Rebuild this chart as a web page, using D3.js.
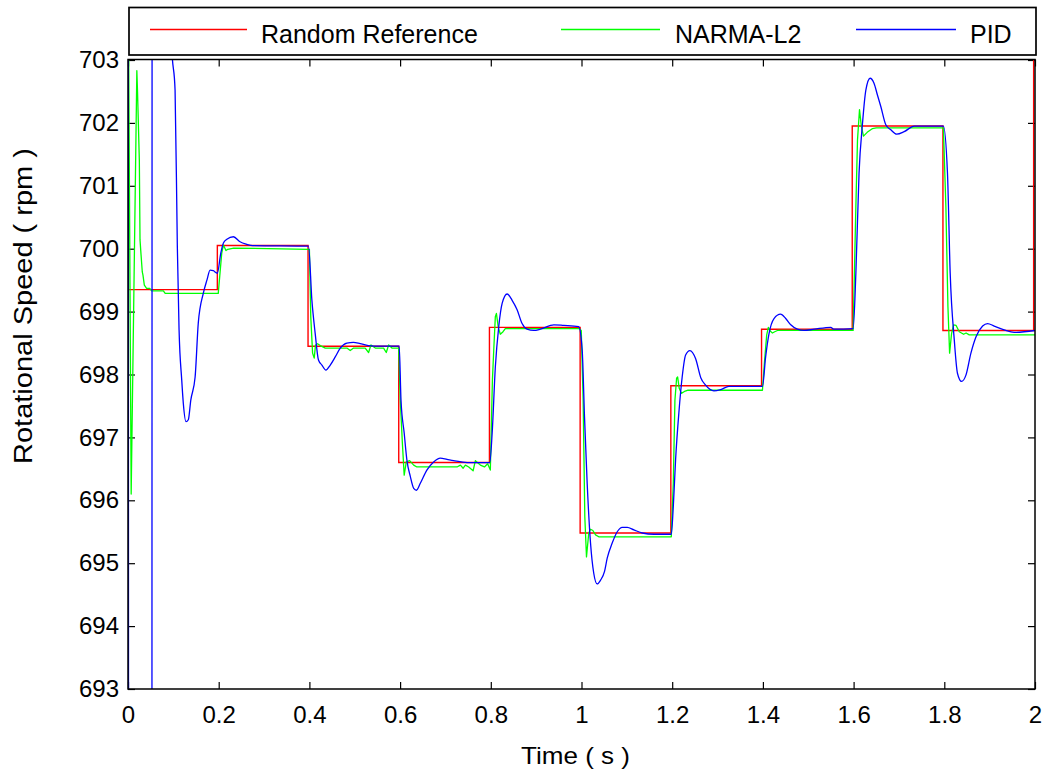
<!DOCTYPE html>
<html>
<head>
<meta charset="utf-8">
<script src="https://cdn.jsdelivr.net/npm/d3@7/dist/d3.min.js"></script>
<style>
  html, body { margin: 0; padding: 0; background: #fff; }
  svg { display: block; }
  text { font-family: "Liberation Sans", Arial, sans-serif; fill: #000; }
</style>
</head>
<body>
<svg id="chart" width="1046" height="776"></svg>
<script>
// Step reference: switching times (s) and set-point levels (rpm)
const refTimes  = [0, 0.197, 0.397, 0.597, 0.797, 0.997, 1.197, 1.397, 1.597, 1.797, 1.997];
const refValues = [699.35, 700.05, 698.45, 696.6, 698.75, 695.48, 697.82, 698.72, 701.95, 698.7, 705];

// NARMA-L2 controller response [time, rpm]
const narmaPoints = [
  [0, 705], [0.007, 696.1], [0.0195, 702.83], [0.021, 702.5], [0.025, 701.4], [0.0265, 700.14],
  [0.0285, 699.93], [0.0315, 699.63], [0.033, 699.58], [0.036, 699.42], [0.041, 699.37],
  [0.048, 699.37], [0.052, 699.33], [0.078, 699.33], [0.082, 699.29], [0.199, 699.29],
  [0.2067, 699.93], [0.2104, 700.06], [0.216, 699.97], [0.22, 699.99], [0.233, 700.01],
  [0.400, 699.99], [0.403, 698.92], [0.407, 698.34], [0.4106, 698.26], [0.4135, 698.47],
  [0.418, 698.49], [0.424, 698.46], [0.435, 698.42], [0.4827, 698.42], [0.490, 698.38],
  [0.4974, 698.42], [0.523, 698.42], [0.5305, 698.35], [0.5357, 698.47], [0.5453, 698.42],
  [0.5636, 698.42], [0.5695, 698.35], [0.5747, 698.47], [0.582, 698.42], [0.5968, 698.42],
  [0.6004, 697.59], [0.605, 696.91], [0.609, 696.40], [0.6137, 696.61], [0.621, 696.63],
  [0.63, 696.56], [0.637, 696.53], [0.7255, 696.53], [0.733, 696.56], [0.739, 696.51],
  [0.744, 696.56], [0.7513, 696.53], [0.761, 696.47], [0.766, 696.63], [0.777, 696.56],
  [0.786, 696.53], [0.793, 696.58], [0.799, 696.48], [0.8035, 697.9], [0.8065, 698.39],
  [0.81, 698.92], [0.8124, 698.97], [0.8165, 698.75], [0.821, 698.64], [0.827, 698.68],
  [0.832, 698.73], [0.994, 698.73], [0.9995, 698.7], [1.0036, 697.59], [1.0073, 695.74],
  [1.011, 695.10], [1.016, 695.48], [1.0199, 695.54], [1.025, 695.52], [1.031, 695.45],
  [1.038, 695.42], [1.198, 695.42], [1.2024, 696.27], [1.206, 697.59], [1.2097, 697.94],
  [1.212, 697.96], [1.2155, 697.78], [1.2201, 697.70], [1.227, 697.73], [1.235, 697.75],
  [1.399, 697.75], [1.4035, 698.2], [1.4084, 698.63], [1.412, 698.75], [1.416, 698.69],
  [1.421, 698.66], [1.426, 698.68], [1.432, 698.70], [1.599, 698.70], [1.605, 700.67],
  [1.6086, 701.73], [1.613, 702.21], [1.617, 701.95], [1.6218, 701.79], [1.630, 701.85],
  [1.6417, 701.91], [1.65, 701.92], [1.798, 701.92], [1.8035, 700.67], [1.808, 699.08],
  [1.8117, 698.34], [1.816, 698.65], [1.8205, 698.79], [1.826, 698.78], [1.833, 698.68],
  [1.8426, 698.64], [1.848, 698.66], [1.855, 698.63], [2.0, 698.63]
];

// PID controller response [time, rpm]
const pidPoints = [
  [0, 730], [0.003, 660], [0.052, 660], [0.054, 740], [0.094, 740], [0.0965, 703.2],
  [0.1038, 702.52], [0.1088, 700.03], [0.1126, 698.71], [0.1185, 697.91], [0.122, 697.54],
  [0.128, 697.25], [0.133, 697.28], [0.1384, 697.59], [0.148, 697.96], [0.155, 698.82],
  [0.166, 699.29], [0.174, 699.5], [0.181, 699.66], [0.188, 699.65], [0.197, 699.61],
  [0.2046, 699.93], [0.2104, 700.09], [0.218, 700.15], [0.2325, 700.19], [0.247, 700.11],
  [0.262, 700.07], [0.275, 700.05], [0.398, 700.04], [0.4055, 699.18], [0.4128, 698.65],
  [0.420, 698.23], [0.4276, 698.15], [0.4364, 698.07], [0.446, 698.15], [0.457, 698.28],
  [0.468, 698.42], [0.4827, 698.50], [0.497, 698.51], [0.512, 698.49], [0.530, 698.46],
  [0.556, 698.45], [0.598, 698.45], [0.602, 697.59], [0.609, 697.07], [0.615, 696.64],
  [0.6225, 696.38], [0.630, 696.19], [0.636, 696.16], [0.6446, 696.27], [0.659, 696.48],
  [0.674, 696.61], [0.6887, 696.67], [0.7035, 696.65], [0.718, 696.63], [0.748, 696.6],
  [0.7977, 696.6], [0.803, 697.07], [0.810, 698.12], [0.8175, 698.76], [0.825, 699.13],
  [0.836, 699.28], [0.847, 699.18], [0.858, 699.03], [0.869, 698.81], [0.880, 698.72],
  [0.8947, 698.70], [0.9095, 698.72], [0.939, 698.79], [0.961, 698.78], [0.994, 698.76],
  [1.0015, 698.39], [1.0066, 697.33], [1.0125, 696.27], [1.0199, 695.32], [1.027, 694.84],
  [1.0346, 694.67], [1.042, 694.73], [1.0508, 694.87], [1.0567, 695.08], [1.0677, 695.32],
  [1.0788, 695.50], [1.0898, 695.57], [1.1009, 695.57], [1.1155, 695.53], [1.134, 695.48],
  [1.16, 695.46], [1.198, 695.46], [1.2024, 695.9], [1.2075, 696.65], [1.2148, 697.4],
  [1.222, 697.96], [1.2296, 698.31], [1.239, 698.38], [1.2517, 698.25], [1.263, 697.95],
  [1.2737, 697.83], [1.292, 697.74], [1.307, 697.76], [1.325, 697.81], [1.399, 697.81],
  [1.406, 698.28], [1.4135, 698.65], [1.4245, 698.89], [1.439, 698.96], [1.4503, 698.89],
  [1.4614, 698.79], [1.476, 698.72], [1.4907, 698.70], [1.513, 698.72], [1.5497, 698.75],
  [1.556, 698.72], [1.599, 698.73], [1.605, 699.61], [1.612, 701.2], [1.6196, 701.99],
  [1.627, 702.52], [1.6364, 702.71], [1.645, 702.63], [1.6527, 702.44], [1.66, 702.26],
  [1.671, 701.97], [1.682, 701.89], [1.695, 701.82], [1.7115, 701.86], [1.7336, 701.95],
  [1.798, 701.95], [1.807, 701.2], [1.813, 699.61], [1.822, 698.55], [1.829, 698.02],
  [1.838, 697.89], [1.8477, 697.99], [1.8587, 698.34], [1.87, 698.60], [1.8845, 698.77],
  [1.8955, 698.81], [1.910, 698.77], [1.932, 698.71], [1.954, 698.67], [2.0, 698.70]
];

const xTicks = [0, 0.2, 0.4, 0.6, 0.8, 1, 1.2, 1.4, 1.6, 1.8, 2];
const yTicks = [693, 694, 695, 696, 697, 698, 699, 700, 701, 702, 703];
const legendLabels = ["Random Reference", "NARMA-L2", "PID"];
const seriesColors = ["#ff0000", "#00ff00", "#0000ff"];

const svg = d3.select("#chart");
const plot = { left: 128, right: 1035, top: 60, bottom: 689 };

const x = d3.scaleLinear().domain([0, 2]).range([plot.left, plot.right]);
const y = d3.scaleLinear().domain([693, 703]).range([plot.bottom, plot.top]);

svg.append("defs").append("clipPath").attr("id", "plotClip")
  .append("rect")
  .attr("x", plot.left).attr("y", plot.top - 1)
  .attr("width", plot.right - plot.left).attr("height", plot.bottom - plot.top + 1);

// Axes with inward ticks on all four sides
const tickLen = 7;
const fmt = d3.format("~g");

const bottomAxis = svg.append("g")
  .attr("transform", `translate(0,${plot.bottom})`)
  .call(d3.axisBottom(x).tickValues(xTicks).tickFormat(fmt)
    .tickSizeInner(-tickLen).tickSizeOuter(0).tickPadding(17));
const leftAxis = svg.append("g")
  .attr("transform", `translate(${plot.left},0)`)
  .call(d3.axisLeft(y).tickValues(yTicks).tickFormat(fmt)
    .tickSizeInner(-tickLen).tickSizeOuter(0).tickPadding(9));
const topAxis = svg.append("g")
  .attr("transform", `translate(0,${plot.top - 0.5})`)
  .call(d3.axisTop(x).tickValues(xTicks).tickFormat("")
    .tickSizeInner(-tickLen).tickSizeOuter(0));
const rightAxis = svg.append("g")
  .attr("transform", `translate(${plot.right},0)`)
  .call(d3.axisRight(y).tickValues(yTicks).tickFormat("")
    .tickSizeInner(-tickLen).tickSizeOuter(0));

[bottomAxis, leftAxis, topAxis, rightAxis].forEach(g => {
  g.select(".domain").remove();
  g.selectAll(".tick line").attr("stroke", "#000").attr("stroke-width", 1.2);
  g.selectAll(".tick text")
    .style("font-family", '"Liberation Sans", Arial, sans-serif')
    .style("font-size", "24px").attr("fill", "#000");
});

// Data lines
const lines = svg.append("g").attr("clip-path", "url(#plotClip)");

const refLine = d3.line()
  .x((d, i) => x(refTimes[i]))
  .y(d => y(d))
  .curve(d3.curveStepAfter);

lines.append("path")
  .datum(refValues)
  .attr("d", refLine)
  .attr("fill", "none").attr("stroke", seriesColors[0]).attr("stroke-width", 1.4);

lines.append("path")
  .datum(narmaPoints)
  .attr("d", d3.line().x(d => x(d[0])).y(d => y(d[1])))
  .attr("fill", "none").attr("stroke", seriesColors[1]).attr("stroke-width", 1.3)
  .attr("stroke-linejoin", "round");

lines.append("path")
  .datum(pidPoints)
  .attr("d", d3.line().x(d => x(d[0])).y(d => y(d[1])).curve(d3.curveMonotoneX))
  .attr("fill", "none").attr("stroke", seriesColors[2]).attr("stroke-width", 1.3)
  .attr("stroke-linejoin", "round");

// Plot frame
svg.append("rect")
  .attr("x", plot.left).attr("y", plot.top - 0.5)
  .attr("width", plot.right - plot.left).attr("height", plot.bottom - plot.top + 0.5)
  .attr("fill", "none").attr("stroke", "#000").attr("stroke-width", 1.5);

// Axis titles
svg.append("text")
  .attr("x", 521).attr("y", 764)
  .attr("textLength", 109).attr("lengthAdjust", "spacingAndGlyphs")
  .style("font-size", "24px")
  .text("Time ( s )");

svg.append("text")
  .attr("transform", "translate(32,306) rotate(-90)")
  .attr("text-anchor", "middle")
  .attr("textLength", 316).attr("lengthAdjust", "spacingAndGlyphs")
  .style("font-size", "25px")
  .text("Rotational Speed ( rpm )");

// Legend
const legend = svg.append("g");
legend.append("rect")
  .attr("x", 129).attr("y", 7.5).attr("width", 907).attr("height", 47.5)
  .attr("fill", "#fff").attr("stroke", "#000").attr("stroke-width", 1.7);

const legendItems = [
  { x1: 150, x2: 247, tx: 261 },
  { x1: 561, x2: 660, tx: 675 },
  { x1: 856, x2: 956, tx: 970 }
];
legendItems.forEach((item, i) => {
  legend.append("line")
    .attr("x1", item.x1).attr("x2", item.x2).attr("y1", 29.5).attr("y2", 29.5)
    .attr("stroke", seriesColors[i]).attr("stroke-width", 1.4);
  legend.append("text")
    .attr("x", item.tx).attr("y", 43.3)
    .style("font-size", "25px")
    .text(legendLabels[i]);
});
</script>
</body>
</html>
